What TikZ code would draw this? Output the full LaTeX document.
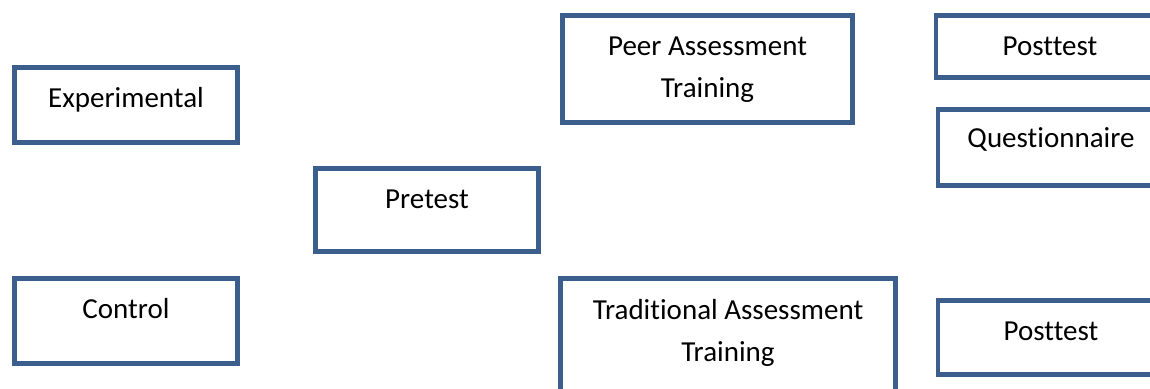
\documentclass[tikz,border=0pt]{standalone}
\usepackage{fontspec}
\setmainfont[Ligatures=NoCommon]{Carlito}
\usetikzlibrary{positioning}
\definecolor{boxblue}{HTML}{3B5E8C}
\tikzset{
  box/.style={draw=boxblue, line width=4.5pt, rectangle, inner sep=0pt},
  lbl/.style={font=\fontsize{29}{42}\selectfont, align=center, anchor=base, inner sep=0pt}
}
\begin{document}
\begin{tikzpicture}[x=1pt,y=-1pt]
\useasboundingbox (0,0) rectangle (1150,388);
\clip (0,0) rectangle (1150,388);

\node[box, minimum width=223pt, minimum height=75pt] (exp) at (126,105) {};
\node[box, minimum width=223pt, minimum height=85pt] (ctrl) at (126,321) {};
\node[box, minimum width=223pt, minimum height=83pt] (pre) at (427,210) {};
\node[box, minimum width=290pt, minimum height=107pt] (peer) at (707.5,69) {};
\node[box, minimum width=335pt, minimum height=117pt] (trad) at (728,337) {};
\node[box, minimum width=228pt, minimum height=62pt] (post1) at (1050,46.5) {};
\node[box, minimum width=226pt, minimum height=76pt] (quest) at (1051,147.5) {};
\node[box, minimum width=226pt, minimum height=74pt] (post2) at (1051,337.5) {};

\node[lbl] (exp-lbl) at ([yshift=-42pt]exp.north) {Experimental};
\node[lbl] (ctrl-lbl) at ([yshift=-42pt]ctrl.north) {Control};
\node[lbl] (pre-lbl) at ([yshift=-42pt]pre.north) {Pretest};
\node[lbl] (peer-lbl) at ([yshift=-84pt]peer.north) {Peer Assessment\\Training};
\node[lbl] (trad-lbl) at ([yshift=-85pt]trad.north) {Traditional Assessment\\Training};
\node[lbl] (post1-lbl) at ([yshift=-42pt]post1.north) {Posttest};
\node[lbl] (quest-lbl) at ([yshift=-40pt]quest.north) {Questionnaire};
\node[lbl] (post2-lbl) at ([yshift=-42pt]post2.north) {Posttest};
\end{tikzpicture}
\end{document}
